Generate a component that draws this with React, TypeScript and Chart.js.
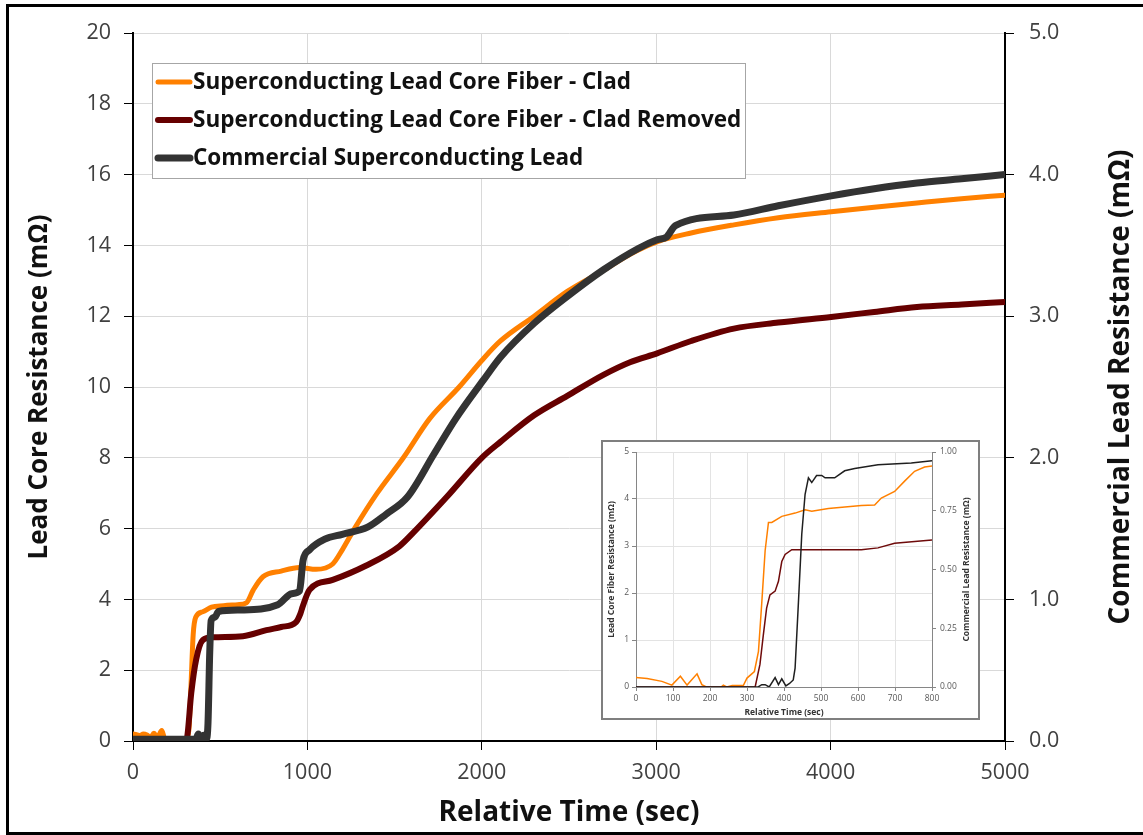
import React, { useEffect, useRef } from "react";
import { Chart, registerables } from "chart.js";

Chart.register(...registerables);

const FONT = "'Open Sans', 'DejaVu Sans', sans-serif";

// ---------- Main chart data ----------
const seriesLabels = [
  "Superconducting Lead Core Fiber - Clad",
  "Superconducting Lead Core Fiber - Clad Removed",
  "Commercial Superconducting Lead",
];
const seriesColors = ["#FF8000", "#660000", "#333333"];

// Clad fiber (left axis, mΩ)
const cladTime = [0, 20, 40, 60, 80, 100, 120, 140, 165, 180, 200, 250, 300, 320, 332, 345, 360, 400, 450, 520, 600, 650, 690, 745, 850, 955, 1050, 1145, 1200, 1270, 1400, 1550, 1700, 1870, 2000, 2107, 2300, 2490, 2700, 2850, 3005, 3200, 3445, 3700, 4003, 4250, 4495, 4750, 5000];
const cladRes = [0.2, 0.18, 0.15, 0.2, 0.17, 0.1, 0.22, 0.1, 0.3, 0.08, 0.03, 0.05, 0.05, 0.3, 1.5, 3.0, 3.5, 3.65, 3.78, 3.82, 3.85, 3.9, 4.27, 4.64, 4.8, 4.9, 4.85, 5.0, 5.4, 6.0, 7.0, 8.0, 9.1, 10.0, 10.75, 11.3, 12.0, 12.7, 13.3, 13.75, 14.1, 14.35, 14.58, 14.78, 14.95, 15.08, 15.2, 15.32, 15.42];

// Clad removed fiber (left axis, mΩ)
const removedTime = [0, 300, 310, 334, 362, 400, 460, 630, 765, 850, 935, 960, 973, 1012, 1145, 1335, 1527, 1610, 1800, 2000, 2107, 2300, 2490, 2700, 2850, 3005, 3200, 3445, 3700, 4003, 4250, 4495, 4750, 5000];
const removedRes = [0.02, 0.02, 0.1, 1.35, 2.3, 2.85, 2.93, 2.96, 3.13, 3.22, 3.36, 3.6, 3.8, 4.27, 4.55, 4.95, 5.5, 5.9, 6.9, 8.0, 8.45, 9.2, 9.75, 10.35, 10.7, 10.95, 11.3, 11.65, 11.82, 11.98, 12.12, 12.26, 12.33, 12.4];

// Commercial lead (right axis, mΩ)
const commercialTime = [0, 360, 375, 390, 405, 420, 430, 440, 448, 470, 490, 620, 830, 910, 955, 975, 1012, 1100, 1200, 1345, 1450, 1575, 1725, 1850, 2010, 2107, 2300, 2490, 2700, 2900, 3005, 3060, 3110, 3445, 3700, 4003, 4250, 4495, 4750, 5000];
const commercialRes = [0.012, 0.012, 0.05, 0.012, 0.04, 0.012, 0.125, 0.625, 0.85, 0.875, 0.915, 0.925, 0.962, 1.04, 1.06, 1.275, 1.35, 1.425, 1.46, 1.51, 1.6, 1.725, 2.025, 2.275, 2.55, 2.71, 2.95, 3.14, 3.33, 3.48, 3.54, 3.56, 3.64, 3.715, 3.78, 3.85, 3.9, 3.94, 3.97, 4.0];

// ---------- Inset data (0-800 s) ----------
const insetCladTime = [0, 30, 70, 97, 120, 138, 165, 178, 190, 230, 236, 245, 260, 290, 300, 320, 331, 340, 349, 358, 367, 394, 430, 457, 475, 520, 609, 645, 663, 699, 726, 753, 780, 800];
const insetCladRes = [0.2, 0.18, 0.12, 0.04, 0.23, 0.04, 0.28, 0.05, 0, 0, 0.04, 0, 0.03, 0.03, 0.19, 0.33, 0.76, 1.8, 2.9, 3.5, 3.5, 3.63, 3.7, 3.77, 3.74, 3.8, 3.86, 3.87, 4.02, 4.16, 4.38, 4.59, 4.68, 4.7];

const insetRemovedTime = [0, 322, 335, 344, 353, 362, 376, 385, 394, 403, 421, 475, 609, 654, 699, 800];
const insetRemovedRes = [0, 0, 0.48, 1.1, 1.68, 1.96, 2.04, 2.25, 2.67, 2.82, 2.92, 2.92, 2.92, 2.96, 3.06, 3.13];

const insetCommercialTime = [0, 330, 340, 349, 360, 376, 385, 394, 405, 415, 425, 430, 439, 448, 457, 466, 475, 488, 502, 511, 537, 564, 591, 654, 744, 800];
const insetCommercialRes = [0, 0, 0.01, 0.01, 0, 0.04, 0.01, 0.035, 0.005, 0.015, 0.03, 0.08, 0.36, 0.65, 0.82, 0.89, 0.87, 0.9, 0.9, 0.89, 0.89, 0.92, 0.93, 0.946, 0.953, 0.963];

const insetColors = ["#FF8000", "#6e0a0a", "#1f1f1f"];

const pts = (t: number[], v: number[]) => t.map((x, i) => ({ x, y: v[i] }));

const legendBoxPlugin = {
  id: "legendBox",
  afterDraw(chart: any) {
    const { ctx, chartArea } = chart;
    const x0 = chartArea.left + 19;
    const y0 = chartArea.top + 30;
    const w = 593;
    const h = 115;
    ctx.save();
    ctx.fillStyle = "#fff";
    ctx.fillRect(x0, y0, w, h);
    ctx.strokeStyle = "#a6a6a6";
    ctx.lineWidth = 1;
    ctx.strokeRect(x0 + 0.5, y0 + 0.5, w, h);
    chart.data.datasets.forEach((ds: any, i: number) => {
      const cy = y0 + 19 + i * 38;
      ctx.strokeStyle = ds.borderColor;
      ctx.lineWidth = ds.borderWidth;
      ctx.lineCap = "round";
      ctx.beginPath();
      ctx.moveTo(x0 + 6, cy);
      ctx.lineTo(x0 + 38, cy);
      ctx.stroke();
      ctx.fillStyle = "#111";
      ctx.font = `bold 22.5px ${FONT}`;
      ctx.textBaseline = "middle";
      ctx.textAlign = "left";
      ctx.fillText(ds.label, x0 + 41, cy + 1);
    });
    ctx.restore();
  },
};

const makeRightTitle = (id: string, text: string, x: number, font: string, color: string) => ({
  id,
  afterDraw(chart: any) {
    const { ctx, chartArea } = chart;
    ctx.save();
    ctx.translate(x, (chartArea.top + chartArea.bottom) / 2);
    ctx.rotate(-Math.PI / 2);
    ctx.font = font;
    ctx.fillStyle = color;
    ctx.textAlign = "center";
    ctx.textBaseline = "middle";
    ctx.fillText(text, 0, 0);
    ctx.restore();
  },
});

const insetFramePlugin = {
  id: "insetFrame",
  beforeDraw(chart: any) {
    const { ctx, width, height } = chart;
    ctx.save();
    ctx.fillStyle = "#fff";
    ctx.fillRect(0, 0, width, height);
    ctx.restore();
  },
  afterDraw(chart: any) {
    const { ctx, width, height } = chart;
    ctx.save();
    ctx.strokeStyle = "#7f7f7f";
    ctx.lineWidth = 2;
    ctx.strokeRect(1, 1, width - 2, height - 2);
    ctx.restore();
  },
};

const plain = (v: any) => String(v);

export default function App() {
  const mainRef = useRef<HTMLCanvasElement>(null);
  const insetRef = useRef<HTMLCanvasElement>(null);

  useEffect(() => {
    const tickFont = { family: FONT, size: 21.5 };
    const lineBase = { pointRadius: 0, cubicInterpolationMode: "monotone", borderJoinStyle: "round", borderCapStyle: "round" };
    const main = new Chart(mainRef.current!, {
      type: "line",
      data: {
        datasets: [
          { ...lineBase, label: seriesLabels[0], data: pts(cladTime, cladRes), borderColor: seriesColors[0], borderWidth: 5, yAxisID: "y", order: 2 },
          { ...lineBase, label: seriesLabels[1], data: pts(removedTime, removedRes), borderColor: seriesColors[1], borderWidth: 6, yAxisID: "y", order: 1 },
          { ...lineBase, label: seriesLabels[2], data: pts(commercialTime, commercialRes), borderColor: seriesColors[2], borderWidth: 7, yAxisID: "y2", order: 0 },
        ] as any,
      },
      options: {
        animation: false,
        responsive: false,
        devicePixelRatio: 1,
        layout: { padding: { top: 33, left: 0, right: 0, bottom: 0 } },
        plugins: { legend: { display: false }, tooltip: { enabled: false } },
        scales: {
          x: {
            type: "linear",
            min: 0,
            max: 5000,
            ticks: { stepSize: 1000, font: tickFont, color: "#404040", padding: 10, maxRotation: 0, callback: plain },
            grid: { color: "#d9d9d9", tickColor: "#000", tickLength: 9 },
            border: { color: "#000", width: 2 },
            title: { display: true, text: "Relative Time (sec)", font: { family: FONT, size: 28, weight: "bold" }, color: "#111", padding: { top: 0, bottom: 5 } },
            afterFit(s: any) { s.height = 94; },
          },
          y: {
            type: "linear",
            position: "left",
            min: 0,
            max: 20,
            ticks: { stepSize: 2, font: tickFont, color: "#404040", padding: 13, callback: plain },
            grid: { color: "#d9d9d9", tickColor: "#000", tickLength: 9 },
            border: { color: "#000", width: 2 },
            title: { display: true, text: "Lead Core Resistance (mΩ)", font: { family: FONT, size: 26, weight: "bold" }, color: "#111", padding: { top: 24, bottom: 0 } },
            afterFit(s: any) { s.width = 133; },
          },
          y2: {
            type: "linear",
            position: "right",
            min: 0,
            max: 5,
            ticks: { stepSize: 1, font: tickFont, color: "#404040", padding: 15, callback: (v: any) => Number(v).toFixed(1) },
            grid: { drawOnChartArea: false, tickColor: "#000", tickLength: 9 },
            border: { color: "#000", width: 2 },
            afterFit(s: any) { s.width = 138; },
          },
        } as any,
      },
      plugins: [legendBoxPlugin, makeRightTitle("mainRightTitle", "Commercial Lead Resistance (mΩ)", 1121, `bold 28px ${FONT}`, "#111")],
    });

    const iFont = { family: FONT, size: 8.5 };
    const insetBase = { pointRadius: 0, tension: 0, borderWidth: 1.5 };
    const inset = new Chart(insetRef.current!, {
      type: "line",
      data: {
        datasets: [
          { ...insetBase, label: seriesLabels[0], data: pts(insetCladTime, insetCladRes), borderColor: insetColors[0], yAxisID: "y", order: 2 },
          { ...insetBase, label: seriesLabels[1], data: pts(insetRemovedTime, insetRemovedRes), borderColor: insetColors[1], yAxisID: "y", order: 1 },
          { ...insetBase, label: seriesLabels[2], data: pts(insetCommercialTime, insetCommercialRes), borderColor: insetColors[2], yAxisID: "y2", order: 0 },
        ] as any,
      },
      options: {
        animation: false,
        responsive: false,
        devicePixelRatio: 1,
        layout: { padding: { top: 12, left: 0, right: 0, bottom: 0 } },
        plugins: { legend: { display: false }, tooltip: { enabled: false } },
        scales: {
          x: {
            type: "linear",
            min: 0,
            max: 800,
            ticks: { stepSize: 100, font: iFont, color: "#595959", padding: 2, maxRotation: 0, callback: plain },
            grid: { color: "#e3e3e3", tickColor: "#868686", tickLength: 4 },
            border: { color: "#868686", width: 1 },
            title: { display: true, text: "Relative Time (sec)", font: { family: FONT, size: 8.5, weight: "bold" }, color: "#333", padding: { top: 0, bottom: 2 } },
            afterFit(s: any) { s.height = 33; },
          },
          y: {
            type: "linear",
            position: "left",
            min: 0,
            max: 5,
            ticks: { stepSize: 1, font: iFont, color: "#595959", padding: 3, callback: plain },
            grid: { color: "#e3e3e3", tickColor: "#868686", tickLength: 4 },
            border: { color: "#868686", width: 1 },
            title: { display: true, text: "Lead Core Fiber Resistance (mΩ)", font: { family: FONT, size: 8.5, weight: "bold" }, color: "#333", padding: { top: 5, bottom: 0 } },
            afterFit(s: any) { s.width = 35; },
          },
          y2: {
            type: "linear",
            position: "right",
            min: 0,
            max: 1,
            ticks: { stepSize: 0.25, font: iFont, color: "#595959", padding: 4, callback: (v: any) => Number(v).toFixed(2) },
            grid: { drawOnChartArea: false, tickColor: "#868686", tickLength: 4 },
            border: { color: "#868686", width: 1 },
            afterFit(s: any) { s.width = 48; },
          },
        } as any,
      },
      plugins: [insetFramePlugin, makeRightTitle("insetRightTitle", "Commercial Lead Resistance (mΩ)", 366, `bold 8.5px ${FONT}`, "#333")],
    });

    return () => {
      main.destroy();
      inset.destroy();
    };
  }, []);

  return (
    <div style={{ position: "absolute", left: 0, top: 0, width: 1143, height: 835, overflow: "hidden", background: "#fff" }}>
      <canvas ref={mainRef} width={1143} height={835} style={{ position: "absolute", left: 0, top: 0, width: 1143, height: 835 }} />
      <canvas ref={insetRef} width={379} height={280} style={{ position: "absolute", left: 601, top: 440, width: 379, height: 280 }} />
      <div style={{ position: "absolute", left: 6, top: 4, width: 1150, height: 831, boxSizing: "border-box", border: "3px solid #000", pointerEvents: "none" }} />
    </div>
  );
}
